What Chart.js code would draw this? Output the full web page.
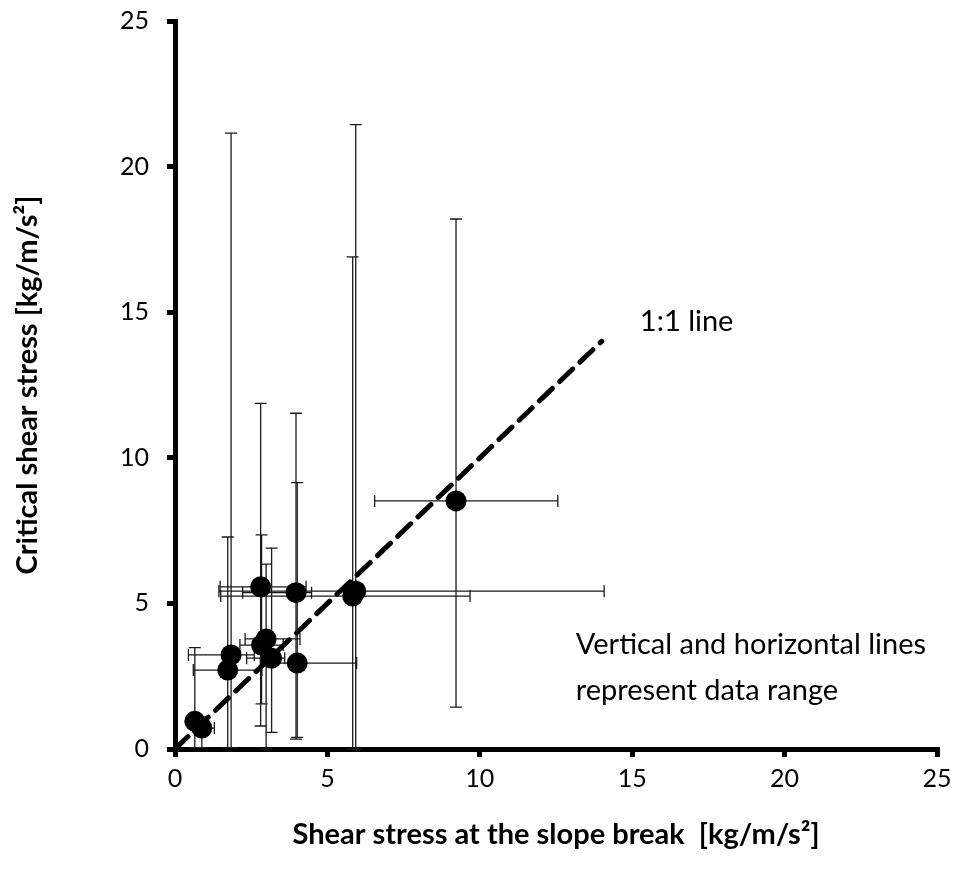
<!DOCTYPE html>
<html>
<head>
<meta charset="utf-8">
<script src="https://cdn.jsdelivr.net/npm/chart.js@4/dist/chart.umd.min.js"></script>
<style>
  html, body { margin: 0; padding: 0; background: #fff; }
</style>
</head>
<body>
<canvas id="shearChart" width="972" height="888"></canvas>
<script>
// measured points: shear stress at slope break (x) vs critical shear stress (y)
const ptX   = [0.65, 0.88, 1.84, 1.73, 2.81, 3.97, 2.99, 2.84, 3.17, 4.01, 5.83, 5.93, 9.22];
const ptY   = [0.95, 0.72, 3.23, 2.71, 5.57, 5.37, 3.78, 3.57, 3.12, 2.95, 5.25, 5.42, 8.52];
// data range (whiskers)
const xLow  = [0.55, 0.70, 0.44, 0.60, 1.48, 2.22, 2.30, 2.13, 2.35, 2.80, 1.50, 1.44, 6.55];
const xHigh = [0.80, 1.29, 2.60, 2.85, 4.30, 4.48, 4.10, 3.55, 3.60, 5.96, 9.68, 14.08, 12.56];
const yLow  = [0.05, 0.05, 0.05, 0.05, 0.79, 0.34, 0.00, 1.55, 0.57, 0.40, 0.00, 0.00, 1.44];
const yHigh = [3.48, 1.10, 21.15, 7.28, 11.87, 11.53, 6.35, 7.35, 6.90, 9.15, 16.90, 21.44, 18.20];

// 1:1 reference line
const oneToOneX = [0, 14];
const oneToOneY = [0, 14];

const axisTicks = [0, 5, 10, 15, 20, 25];

const FONT = 'Lato, "Open Sans", sans-serif';

// annotations placed in data units
const notes = [
  { text: '1:1 line', x: 15.25, y: 14.66 },
  { text: 'Vertical and horizontal lines', x: 13.15, y: 3.57 },
  { text: 'represent data range', x: 13.15, y: 1.99 }
];

const errorBars = {
  id: 'errorBars',
  beforeDatasetsDraw(chart) {
    const { ctx, scales: { x, y } } = chart;
    const cap = 6;
    ctx.save();
    ctx.strokeStyle = '#1a1a1a';
    ctx.lineWidth = 1.3;
    ptX.forEach((vx, i) => {
      const px = x.getPixelForValue(vx);
      const py = y.getPixelForValue(ptY[i]);
      const top = y.getPixelForValue(yHigh[i]);
      const bot = y.getPixelForValue(yLow[i]);
      const lft = x.getPixelForValue(xLow[i]);
      const rgt = x.getPixelForValue(xHigh[i]);
      ctx.beginPath();
      // vertical range
      ctx.moveTo(px, top); ctx.lineTo(px, bot);
      ctx.moveTo(px - cap, top); ctx.lineTo(px + cap, top);
      ctx.moveTo(px - cap, bot); ctx.lineTo(px + cap, bot);
      // horizontal range
      ctx.moveTo(lft, py); ctx.lineTo(rgt, py);
      ctx.moveTo(lft, py - cap); ctx.lineTo(lft, py + cap);
      ctx.moveTo(rgt, py - cap); ctx.lineTo(rgt, py + cap);
      ctx.stroke();
    });
    ctx.restore();
  }
};

const noteText = {
  id: 'noteText',
  afterDraw(chart) {
    const { ctx, scales: { x, y } } = chart;
    ctx.save();
    ctx.fillStyle = '#000';
    ctx.font = '29px ' + FONT;
    ctx.textAlign = 'left';
    ctx.textBaseline = 'middle';
    notes.forEach(n => {
      ctx.fillText(n.text, x.getPixelForValue(n.x), y.getPixelForValue(n.y));
    });
    ctx.restore();
  }
};

const axisCommon = {
  type: 'linear',
  min: 0,
  max: 25,
  afterBuildTicks: s => { s.ticks = axisTicks.map(v => ({ value: v })); },
  border: { display: true, color: '#000', width: 5 },
  grid: {
    display: true,
    drawOnChartArea: false,
    drawTicks: true,
    tickLength: 8,
    lineWidth: 5,
    color: '#000'
  }
};

new Chart(document.getElementById('shearChart').getContext('2d'), {
  data: {
    datasets: [
      {
        type: 'line',
        data: oneToOneX.map((v, i) => ({ x: v, y: oneToOneY[i] })),
        borderColor: '#000',
        borderWidth: 5,
        borderDash: [18, 10],
        borderCapStyle: 'round',
        pointRadius: 0,
        fill: false
      },
      {
        type: 'scatter',
        data: ptX.map((v, i) => ({ x: v, y: ptY[i] })),
        backgroundColor: '#000',
        borderColor: '#000',
        pointRadius: 10.5,
        borderWidth: 0
      }
    ]
  },
  options: {
    responsive: false,
    animation: false,
    layout: { padding: { top: 21, right: 35, left: 0, bottom: 0 } },
    plugins: {
      legend: { display: false },
      tooltip: { enabled: false }
    },
    scales: {
      x: {
        ...axisCommon,
        position: 'bottom',
        afterFit: s => { s.height = 139; s.paddingLeft = 0; s.paddingRight = 0; },
        ticks: { color: '#000', padding: 7, font: { family: FONT, size: 25 } },
        title: {
          display: true,
          text: 'Shear stress at the slope break  [kg/m/s²]',
          color: '#000',
          font: { family: FONT, size: 29, weight: 'bold' },
          padding: { top: 0, bottom: 36 }
        }
      },
      y: {
        ...axisCommon,
        position: 'left',
        afterFit: s => { s.width = 175; s.paddingTop = 0; s.paddingBottom = 0; },
        ticks: { color: '#000', padding: 18, font: { family: FONT, size: 25 } },
        title: {
          display: true,
          text: 'Critical shear stress [kg/m/s²]',
          color: '#000',
          font: { family: FONT, size: 29, weight: 'bold' },
          padding: { top: 10, bottom: 0 }
        }
      }
    }
  },
  plugins: [errorBars, noteText]
});
</script>
</body>
</html>
